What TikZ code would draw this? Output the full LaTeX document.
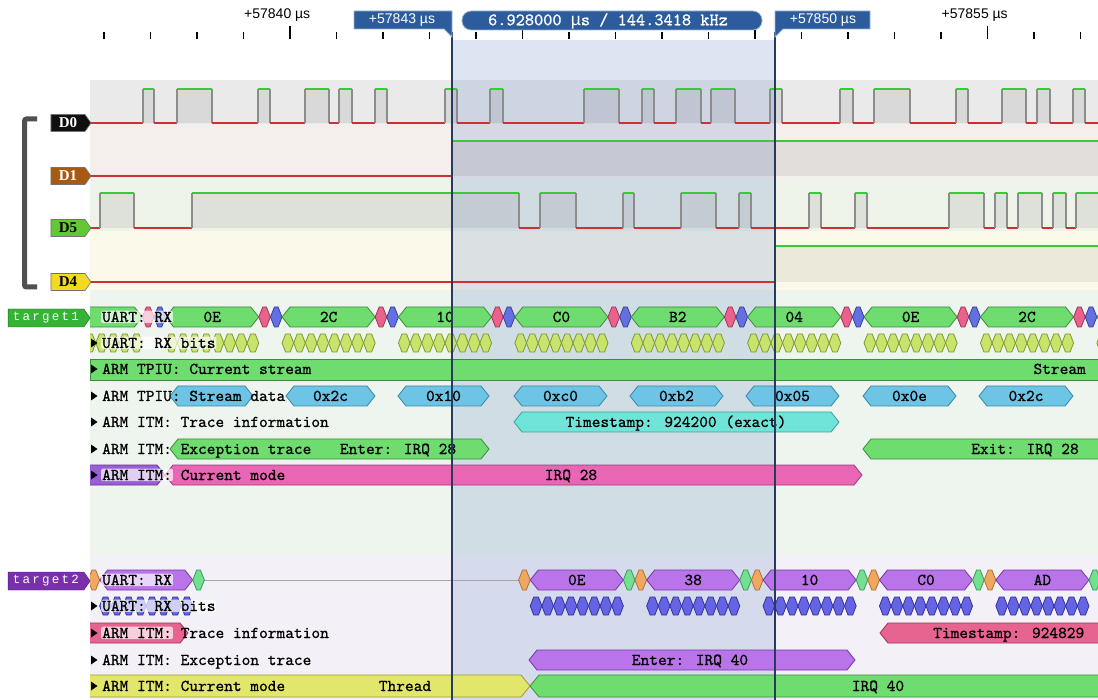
\documentclass[tikz,border=0pt]{standalone}
\usepackage{fontspec}
\setmainfont{Liberation Sans}
\newfontfamily\sansf{Liberation Sans}
\newfontfamily\tagserif{Liberation Serif}
\newfontfamily\labfont{lmmono10-regular.otf}[FakeBold=0.8]
\newfontfamily\tgtfont{Liberation Mono}[LetterSpace=18]
\usetikzlibrary{shapes.symbols}

% row backgrounds
\definecolor{bgDzero}{HTML}{EAEAEA}
\definecolor{bgDone}{HTML}{F4EFEC}
\definecolor{bgDfive}{HTML}{EEF3EA}
\definecolor{bgDfour}{HTML}{FBFAEA}
\definecolor{bgTone}{HTML}{EEF5EE}
\definecolor{bgTtwo}{HTML}{F3F0F7}
% cursors
\definecolor{band}{HTML}{6C8CC8}
\definecolor{cursorline}{HTML}{2A3A5C}
\definecolor{cursorbox}{HTML}{2C5C9C}
% logic traces
\definecolor{sighigh}{HTML}{3CC83C}
\definecolor{siglow}{HTML}{C83232}
\definecolor{sigedge}{HTML}{8C8C8C}
% decoder colours
\definecolor{uartgreen}{HTML}{6EDC6E}
\definecolor{uartgreenD}{HTML}{3C8C3C}
\definecolor{stoppink}{HTML}{E8628C}
\definecolor{stoppinkD}{HTML}{A03458}
\definecolor{startblue}{HTML}{6470E0}
\definecolor{startblueD}{HTML}{34409C}
\definecolor{bitlime}{HTML}{C8E46C}
\definecolor{bitlimeD}{HTML}{7C9A2C}
\definecolor{tpiublue}{HTML}{6EC4E4}
\definecolor{tpiublueD}{HTML}{3A88A8}
\definecolor{tsturq}{HTML}{70E4D8}
\definecolor{tsturqD}{HTML}{38A49C}
\definecolor{modepurple}{HTML}{9A5ED8}
\definecolor{modepurpleD}{HTML}{5C3490}
\definecolor{modepink}{HTML}{E866B4}
\definecolor{modepinkD}{HTML}{A03878}
\definecolor{uartviolet}{HTML}{B874E8}
\definecolor{uartvioletD}{HTML}{7438A8}
\definecolor{stopmint}{HTML}{72E090}
\definecolor{stopmintD}{HTML}{3C9858}
\definecolor{startorange}{HTML}{F0A860}
\definecolor{startorangeD}{HTML}{B07030}
\definecolor{bitindigo}{HTML}{6464E4}
\definecolor{bitindigoD}{HTML}{34349A}
\definecolor{tracepink}{HTML}{E86490}
\definecolor{tracepinkD}{HTML}{A03458}
\definecolor{threadyellow}{HTML}{E2E66A}
\definecolor{threadyellowD}{HTML}{9A9C30}
% channel and target tags
\definecolor{tagblack}{HTML}{101010}
\definecolor{tagbrown}{HTML}{A85A12}
\definecolor{taggreen}{HTML}{62C834}
\definecolor{tagyellow}{HTML}{F2DA1E}
\definecolor{tgtgreen}{HTML}{36B236}
\definecolor{tgtpurple}{HTML}{7A30AC}
\definecolor{brk}{HTML}{505050}

\newcommand\lfont{\labfont\fontsize{16.6}{18}\selectfont}
\newcommand\bw{11.64}
% hexagonal decoder cell: style, x1, x2, y centre, half height, tip length
\newcommand\hexa[6]{\path[#1] (#2,#4) -- (#2+#6,#4-#5) -- (#3-#6,#4-#5) -- (#3,#4) -- (#3-#6,#4+#5) -- (#2+#6,#4+#5) -- cycle;}
% logic trace: high y, low y, list of rise/fall positions
\newcommand\wave[3]{%
  \foreach \rx/\fx [remember=\fx as \pfx (initially 90)] in {#3}{%
    \fill[pulsefill] (\rx,#1) rectangle (\fx,#2);
    \draw[lowline] (\pfx,#2) -- (\rx,#2);
    \draw[edgeline] (\rx,#2) -- (\rx,#1) (\fx,#1) -- (\fx,#2);
    \draw[highline] (\rx,#1) -- (\fx,#1);
  }}
% expand marker in front of a decoder row label
\newcommand\rowtri[1]{\fill[black] (91,#1-4.5) -- (97.5,#1) -- (91,#1+4.5) -- cycle;}

\begin{document}
\begin{tikzpicture}[x=1pt,y=-1pt,
  pulsefill/.style={fill=black, fill opacity=0.07},
  lowline/.style={draw=siglow, line width=1.4},
  highline/.style={draw=sighigh, line width=1.4},
  edgeline/.style={draw=sigedge, line width=1.1},
  tick/.style={draw=black, line width=1.1},
  rul/.style={font=\sansf\fontsize{14}{14}\selectfont, anchor=west, inner sep=0pt},
  lab/.style={font=\lfont, anchor=base west, inner sep=0pt},
  halo/.style={font=\lfont, anchor=base west, inner xsep=1pt, inner ysep=1pt, fill=white, fill opacity=0.7, text opacity=1, rounded corners=2},
  val/.style={font=\lfont, anchor=base, inner sep=0pt},
  chtag/.style={signal, signal to=east, signal pointer angle=110, minimum width=40, minimum height=17, inner sep=1pt, draw=black!55, line width=0.6, font=\tagserif\bfseries\fontsize{15}{15}\selectfont},
  tgttag/.style={signal, signal to=east, signal pointer angle=110, minimum width=82, minimum height=18, inner sep=1pt, text=white, font=\tgtfont\fontsize{12.5}{13}\selectfont},
  uartd/.style={fill=uartgreen, draw=uartgreenD, line width=0.8},
  stopd/.style={fill=stoppink, draw=stoppinkD, line width=0.8},
  startd/.style={fill=startblue, draw=startblueD, line width=0.8},
  bitd/.style={fill=bitlime, draw=bitlimeD, line width=0.8},
  tpiud/.style={fill=tpiublue, draw=tpiublueD, line width=0.8},
  tsd/.style={fill=tsturq, draw=tsturqD, line width=0.8},
  modepd/.style={fill=modepurple, draw=modepurpleD, line width=0.8},
  modekd/.style={fill=modepink, draw=modepinkD, line width=0.8},
  violetd/.style={fill=uartviolet, draw=uartvioletD, line width=0.8},
  mintd/.style={fill=stopmint, draw=stopmintD, line width=0.8},
  oranged/.style={fill=startorange, draw=startorangeD, line width=0.8},
  indigod/.style={fill=bitindigo, draw=bitindigoD, line width=0.8},
  tracepd/.style={fill=tracepink, draw=tracepinkD, line width=0.8},
  yellowd/.style={fill=threadyellow, draw=threadyellowD, line width=0.8},
  cbox/.style={fill=cursorbox, draw=white!55!cursorbox, line width=0.8},
  ctext/.style={text=white, inner sep=0pt},
]
\useasboundingbox (0,0) rectangle (1098,700);
\begin{scope}
\clip (0,0) rectangle (1098,700);

% canvas and row bands
\fill[white] (0,0) rectangle (1098,700);
\fill[bgDzero] (90,80) rectangle (1098,124);
\fill[bgDone] (90,124) rectangle (1098,178);
\fill[bgDfive] (90,178) rectangle (1098,231);
\fill[bgDfour] (90,231) rectangle (1098,290);
\fill[bgTone] (90,290) rectangle (1098,555);
\fill[bgTtwo] (90,555) rectangle (1098,700);

% measured interval between the two cursors
\fill[band, fill opacity=0.22] (452,40) rectangle (775,700);

% time ruler
\foreach \k in {-4,...,17}{
  \pgfmathtruncatemacro\mj{mod(\k+20,5)==0 ? 1 : 0}
  \ifnum\mj=1
    \draw[tick] (290+46.5*\k,26) -- (290+46.5*\k,39.5);
  \else
    \draw[tick] (290+46.5*\k,32.5) -- (290+46.5*\k,39.5);
  \fi
}
\node[rul] (r40) at (244,15) {+57840 µs};
\node[rul] (r55) at (941.5,15) {+57855 µs};

% logic channels
\wave{89}{123}{143/154,177/212,258/270,305/329,339/352,375/387,445/457,490/503,584/619,642/654,676/701,711/735,770/782,840/853,874/910,956/968,1002/1026,1037/1050,1073/1085,1200/1210}
\wave{141}{176}{452/1200}
\wave{193}{228}{100/134,192/519,540/576,623/634,681/716,739/751,809/821,855/867,949/984,995/1007,1018/1042,1053/1066,1076/1200}
\wave{246}{282}{775/1200}

% protocol decoders
\begin{scope}
\clip (90,290) rectangle (1098,700);

% ---- target1 ----
% UART RX frames: start bit, 8 data bits, stop bit
\foreach \k/\t [count=\n] in {-1/,0/0E,1/2C,2/10,3/C0,4/B2,5/04,6/0E,7/2C,8/}{
  \pgfmathsetmacro\b{154+116.4*\k}
  \hexa{startd}{\b}{\b+\bw}{317}{10}{4}
  \hexa{uartd}{\b+\bw}{\b+9*\bw}{317}{10}{8}
  \hexa{stopd}{\b+9*\bw}{\b+10*\bw}{317}{10}{4}
  \node[val] (ua\n) at (\b+5*\bw,322) {\t};
  \foreach \i in {1,...,8}{
    \hexa{bitd}{\b+\i*\bw}{\b+\i*\bw+\bw}{343}{9}{3.5}
  }
}
\node[halo] (l11) at (101,322) {UART: RX};
\rowtri{343}
\node[halo] (l12) at (101,348) {UART: RX bits};

% TPIU current stream
\path[uartd] (90,359) rectangle (1110,380);
\rowtri{369}
\node[lab] (l13) at (102,374) {ARM TPIU: Current stream};
\node[val, anchor=base east] (vstream) at (1086,374) {Stream};

% TPIU stream data
\foreach \xa/\xb/\t [count=\n] in {170/253/,286/375/0x2c,398/489/0x10,514/607/0xc0,630/723/0xb2,746/839/0x05,863/956/0x0e,979/1073/0x2c}{
  \hexa{tpiud}{\xa}{\xb}{396}{10}{8}
  \node[val] (sd\n) at ({(\xa+\xb)/2},401) {\t};
}
\rowtri{396}
\node[lab] (l14) at (102,401) {ARM TPIU: Stream data};

% ITM trace information
\hexa{tsd}{514}{839}{422}{10}{8}
\node[val] (ts1) at (676,427) {Timestamp: 924200 (exact)};
\rowtri{422}
\node[lab] (l15) at (102,427) {ARM ITM: Trace information};

% ITM exception trace
\hexa{uartd}{170}{489}{449}{10}{8}
\node[val] (ex1) at (398,454) {Enter: IRQ 28};
\hexa{uartd}{863}{1250}{449}{10}{8}
\node[val] (ex2) at (1025,454) {Exit: IRQ 28};
\rowtri{449}
\node[lab] (l16) at (102,454) {ARM ITM: Exception trace};

% ITM current mode
\hexa{modepd}{40}{165}{475}{10}{8}
\hexa{modekd}{165}{862}{475}{10}{8}
\node[val] (cm1) at (571,480) {IRQ 28};
\rowtri{475}
\node[halo] (l17a) at (101,480) {ARM ITM:};
\node[lab] (l17b) at (180.5,480) {Current mode};

% ---- target2 ----
\draw[black!35, line width=1] (204,580) -- (519,580);
\foreach \b/\t [count=\n] in {88/,518.6/0E,635/38,751.4/10,867.8/C0,984.2/AD,1100.6/}{
  \hexa{oranged}{\b}{\b+\bw}{580}{10}{4}
  \hexa{violetd}{\b+\bw}{\b+9*\bw}{580}{10}{8}
  \hexa{mintd}{\b+9*\bw}{\b+10*\bw}{580}{10}{4}
  \node[val] (ub\n) at (\b+5*\bw,585) {\t};
  \foreach \i in {1,...,8}{
    \hexa{indigod}{\b+\i*\bw}{\b+\i*\bw+\bw}{606}{9}{3.5}
  }
}
\node[halo] (l21) at (101,585) {UART: RX};
\rowtri{606}
\node[halo] (l22) at (101,611) {UART: RX bits};

% ITM trace information
\hexa{tracepd}{40}{188}{633}{10}{8}
\hexa{tracepd}{880}{1205}{633}{10}{8}
\node[lab] (ts2) at (933,638) {Timestamp: 924829};
\rowtri{633}
\node[halo] (l23a) at (101,638) {ARM ITM:};
\node[lab] (l23b) at (180.5,638) {Trace information};

% ITM exception trace
\hexa{violetd}{529}{855}{660}{10}{8}
\node[val] (ex3) at (690,665) {Enter: IRQ 40};
\rowtri{660}
\node[lab] (l24) at (102,665) {ARM ITM: Exception trace};

% ITM current mode
\hexa{yellowd}{40}{530}{686}{11}{9}
\hexa{uartd}{530}{1250}{686}{11}{9}
\node[val] (cm2) at (405,691) {Thread};
\node[val] (cm3) at (878,691) {IRQ 40};
\rowtri{686}
\node[lab] (l25) at (102,691) {ARM ITM: Current mode};
\end{scope}

% cursor lines
\coordinate (ca) at (452,32);
\coordinate (cae) at (452,700);
\coordinate (cb) at (775,32);
\coordinate (cbe) at (775,700);
\draw[cursorline, line width=1.1] (ca) -- (cae);
\draw[cursorline, line width=1.1] (cb) -- (cbe);

% cursor labels
\path[cbox] (354,11) -- (452,11) -- (452,37) -- (444,29) -- (354,29) -- cycle;
\node[ctext, font=\sansf\fontsize{14}{14}\selectfont] (cl1) at (402,20.5) {+57843 µs};
\path[cbox, rounded corners=9] (462,11) rectangle (762,30);
\node[ctext, font=\labfont\fontsize{17.5}{18}\selectfont] (cld) at (608,21) {6.928000 {\sansf µ}s / 144.3418 kHz};
\path[cbox] (775,37) -- (775,11) -- (870,11) -- (870,29) -- (783,29) -- cycle;
\node[ctext, font=\sansf\fontsize{14}{14}\selectfont] (cl2) at (823,20.5) {+57850 µs};

% channel group bracket and tags
\draw[brk, line width=5, rounded corners=2] (37,119) -- (24.5,119) -- (24.5,287) -- (37,287);
\node[chtag, fill=tagblack, text=white] (tD0) at (68,123) {D0};
\node[chtag, fill=tagbrown, text=white] (tD1) at (68,176) {D1};
\node[chtag, fill=taggreen, text=black] (tD5) at (68,228) {D5};
\node[chtag, fill=tagyellow, text=black] (tD4) at (68,282) {D4};

% decoder target tags
\node[tgttag, fill=tgtgreen, draw=tgtgreen!60!black] (tg1) at (46,318) {target1};
\node[tgttag, fill=tgtpurple, draw=tgtpurple!60!black] (tg2) at (46,581) {target2};
\end{scope}
\end{tikzpicture}
\end{document}
